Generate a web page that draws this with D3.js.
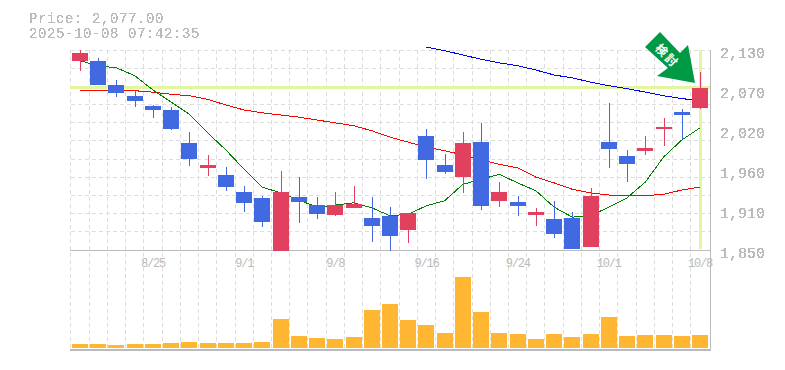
<!DOCTYPE html>
<html>

<head>
    <meta charset="utf-8" />
    <title>Price chart</title>
    <script src="https://d3js.org/d3.v7.min.js"></script>
    <style>
        html,
        body {
            margin: 0;
            padding: 0;
            background-color: white;
        }

        svg {
            display: block;
        }

        text {
            font-family: 'Liberation Mono', monospace;
            fill: #bbb;
        }
    </style>
</head>

<body>
    <div id="chart"></div>

    <script>
        var dates = ['8/19', '8/20', '8/21', '8/22', '8/25', '8/26', '8/27', '8/28', '8/29', '9/1', '9/2', '9/3', '9/4', '9/5',
            '9/8', '9/9', '9/10', '9/11', '9/12', '9/16', '9/17', '9/18', '9/19', '9/22', '9/24', '9/25', '9/26', '9/29', '9/30',
            '10/1', '10/2', '10/3', '10/6', '10/7', '10/8'];
        var open = [2115, 2115, 2081, 2066, 2052, 2046, 2000, 1965, 1955, 1931, 1923, 1849, 1924, 1913, 1899, 1909, 1895, 1898,
            1878, 2010, 1969, 1952, 2001, 1919, 1917, 1899, 1893, 1895, 1854, 2001, 1982, 1989, 2019, 2043, 2049];
        var high = [2130, 2119, 2088, 2074, 2053, 2050, 2015, 1983, 1966, 1940, 1926, 1961, 1952, 1924, 1931, 1940, 1924, 1910,
            1902, 2019, 1984, 2015, 2028, 1945, 1926, 1909, 1919, 1903, 1937, 2056, 1990, 2010, 2035, 2047, 2099];
        var low = [2101, 2081, 2064, 2050, 2035, 2018, 1968, 1954, 1933, 1903, 1882, 1849, 1888, 1893, 1898, 1909, 1861, 1849,
            1860, 1949, 1956, 1930, 1906, 1910, 1898, 1884, 1867, 1851, 1854, 1965, 1945, 1983, 1996, 2005, 2047];
        var close = [2126, 2081, 2070, 2059, 2046, 2019, 1977, 1969, 1938, 1916, 1889, 1931, 1917, 1900, 1913, 1914, 1884, 1870,
            1902, 1976, 1959, 2000, 1912, 1931, 1912, 1903, 1872, 1851, 1926, 1991, 1970, 1993, 2022, 2039, 2077];
        var volume = [4, 4, 3, 4, 4, 5, 6, 5, 5, 5, 6, 29, 12, 10, 9, 11, 38, 44, 28, 23, 15, 71, 36, 15, 14, 9, 14, 11, 14, 31, 12, 13, 13, 12, 13];
        var maShort = [2115, 2108, 2105, 2094, 2074, 2057, 2040, 2014, 1990, 1963, 1938, 1930, 1920, 1910, 1913, 1916, 1909, 1898,
            1900, 1912, 1919, 1942, 1949, 1956, 1944, 1933, 1910, 1896, 1898, 1910, 1923, 1945, 1980, 2004, 2021];
        var maMid = [2074, 2074, 2074, 2073, 2071, 2068, 2066, 2061, 2053, 2046, 2042, 2039, 2036, 2032, 2028, 2024, 2017, 2008,
            2001, 1994, 1989, 1983, 1976, 1970, 1965, 1952, 1944, 1935, 1930, 1927, 1926, 1926, 1928, 1934, 1938];
        var maLong = [null, null, null, null, null, null, null, null, null, null, null, null, null, null, null, null, null, null, null,
            2134, 2129, 2123, 2117, 2112, 2108, 2102, 2095, 2091, 2085, 2080, 2076, 2071, 2066, 2062, 2059];
        var priceTicks = [1850, 1906, 1962, 2018, 2074, 2130];
        var dateTicks = ['8/25', '9/1', '9/8', '9/16', '9/24', '10/1', '10/8'];
        var lastPrice = 2077;
        var titleLines = ['Price: 2,077.00', '2025-10-08 07:42:35'];

        var width = 785, height = 370;
        var left = 70.9, right = 709.1, top_ = 50, mid = 250, bottom = 350;

        var svg = d3.select('#chart').append('svg')
            .attr('width', width)
            .attr('height', height);

        // hard edged text, the original has no smoothing
        svg.append('defs').append('filter').attr('id', 'hard')
            .attr('x', '-5%').attr('y', '-5%').attr('width', '110%').attr('height', '110%')
            .append('feComponentTransfer')
            .append('feFuncA').attr('type', 'discrete').attr('tableValues', '0 1 1');

        var x = d3.scaleBand().domain(dates).range([left, right]);
        var y = d3.scaleLinear().domain([1850, 2130]).range([mid, top_]);
        var yVol = d3.scaleLinear().domain([0, 71]).range([348, 277]);

        function cx(d) { return Math.round(x(d) + x.bandwidth() / 2); }
        function bodyX(d) { return Math.round(x(d) + x.bandwidth() / 2 - 8); }

        // grid
        var grid = svg.append('g')
            .attr('stroke', '#ddd')
            .attr('stroke-dasharray', '4,3')
            .attr('shape-rendering', 'crispEdges');
        grid.selectAll('.v').data(dates).enter().append('line')
            .attr('x1', function (d) { return Math.floor(x(d)) + 0.5; })
            .attr('x2', function (d) { return Math.floor(x(d)) + 0.5; })
            .attr('y1', top_).attr('y2', bottom);
        grid.selectAll('.h').data(d3.range(1, 11)).enter().append('line')
            .attr('x1', 71).attr('x2', 710)
            .attr('y1', function (i) { return Math.floor(y(1850 + i * 280 / 11)) + 0.5; })
            .attr('y2', function (i) { return Math.floor(y(1850 + i * 280 / 11)) + 0.5; });
        grid.append('line').attr('x1', 71).attr('x2', 710).attr('y1', 50.5).attr('y2', 50.5);

        // axis frame
        var frame = svg.append('g').attr('stroke', '#bbb').attr('shape-rendering', 'crispEdges');
        frame.append('line').attr('x1', 70).attr('x2', 711).attr('y1', 250.5).attr('y2', 250.5);
        frame.append('line').attr('x1', 70).attr('x2', 711).attr('y1', 349.5).attr('y2', 349.5).attr('stroke-width', 2);
        frame.append('line').attr('x1', 710.5).attr('x2', 710.5).attr('y1', 50).attr('y2', 351);

        // current price cross
        svg.append('line').attr('x1', 70).attr('x2', 710)
            .attr('y1', Math.floor(y(lastPrice)) + 0.5).attr('y2', Math.floor(y(lastPrice)) + 0.5)
            .attr('stroke', '#e2f5a0').attr('stroke-width', 3).attr('shape-rendering', 'crispEdges');
        svg.append('line').attr('x1', cx('10/8') + 0.5).attr('x2', cx('10/8') + 0.5)
            .attr('y1', 50).attr('y2', 249)
            .attr('stroke', '#e2f5a0').attr('stroke-width', 3).attr('shape-rendering', 'crispEdges');

        // moving averages
        function drawLine(values, color) {
            var line = d3.line()
                .defined(function (d) { return d !== null; })
                .x(function (d, i) { return x(dates[i]) + x.bandwidth() / 2; })
                .y(function (d) { return y(d); });
            svg.append('path').datum(values)
                .attr('fill', 'none')
                .attr('stroke', color)
                .attr('stroke-width', 1)
                .attr('shape-rendering', 'crispEdges')
                .attr('d', line);
        }
        drawLine(maLong, '#0000ff');
        drawLine(maMid, '#ff0000');
        drawLine(maShort, '#008000');

        // candles
        var blue = '#4169e1', red = '#e2405f';
        function candleColor(i) { return close[i] >= open[i] ? red : blue; }
        var candles = svg.append('g').attr('shape-rendering', 'crispEdges');
        dates.forEach(function (d, i) {
            candles.append('line')
                .attr('x1', cx(d) + 0.5).attr('x2', cx(d) + 0.5)
                .attr('y1', Math.round(y(high[i]))).attr('y2', Math.round(y(low[i])))
                .attr('stroke', candleColor(i));
            var t = Math.round(y(Math.max(open[i], close[i])));
            var b = Math.round(y(Math.min(open[i], close[i])));
            candles.append('rect')
                .attr('x', bodyX(d)).attr('y', t)
                .attr('width', 16).attr('height', Math.max(1, b - t))
                .attr('fill', candleColor(i));
        });

        // volume
        svg.append('g').selectAll('rect').data(volume).enter().append('rect')
            .attr('x', function (d, i) { return bodyX(dates[i]); })
            .attr('y', function (d) { return yVol(d); })
            .attr('width', 16)
            .attr('height', function (d) { return yVol(0) - yVol(d); })
            .attr('fill', '#ffb733')
            .attr('shape-rendering', 'crispEdges');

        // axes
        var axisY = d3.axisRight(y).tickValues(priceTicks).tickSize(0).tickPadding(0)
            .tickFormat(function (d) { return d3.format(',')(Math.round(d / 10) * 10); });
        var gy = svg.append('g').attr('transform', 'translate(720,3)').attr('filter', 'url(#hard)').call(axisY);
        gy.select('.domain').remove();
        gy.selectAll('text').style('font-size', '15px').style('fill', '#bbb').style('font-family', "'Liberation Mono', monospace");

        var axisX = d3.axisBottom(x).tickValues(dateTicks).tickSize(0).tickPadding(0);
        var gx = svg.append('g').attr('transform', 'translate(0,258)').call(axisX);
        gx.select('.domain').remove();
        gx.selectAll('text').style('font-size', '12px').style('letter-spacing', '-1.2px')
            .style('fill', '#bbb').style('font-family', "'Liberation Mono', monospace");

        // title
        svg.append('g').attr('filter', 'url(#hard)')
            .selectAll('.title').data(titleLines).enter().append('text')
            .attr('x', 29)
            .attr('y', function (d, i) { return 23 + i * 15; })
            .style('font-size', '14px')
            .style('letter-spacing', '0.6px')
            .text(function (d) { return d; });

        // arrow badge, anchored on the last candle
        var tipX = cx('10/8') - 5, tipY = Math.round(y(lastPrice)) - 5;
        var badge = svg.append('g').attr('transform', 'translate(' + tipX + ',' + tipY + ')');
        badge.append('path')
            .attr('d', 'M0,0 L-38,-7 L-27,-15 L-50,-36 L-35,-51 L-15,-30 L-7,-38 Z')
            .attr('fill', '#009944');
        badge.append('text')
            .attr('transform', 'translate(-28,-27) rotate(45)')
            .attr('text-anchor', 'middle')
            .attr('dy', '0.35em')
            .style('font-family', "'Noto Sans CJK JP', sans-serif")
            .style('font-size', '12px')
            .style('font-weight', 'bold')
            .style('letter-spacing', '2px')
            .style('fill', 'white')
            .text('検討');
    </script>

</body>

</html>
